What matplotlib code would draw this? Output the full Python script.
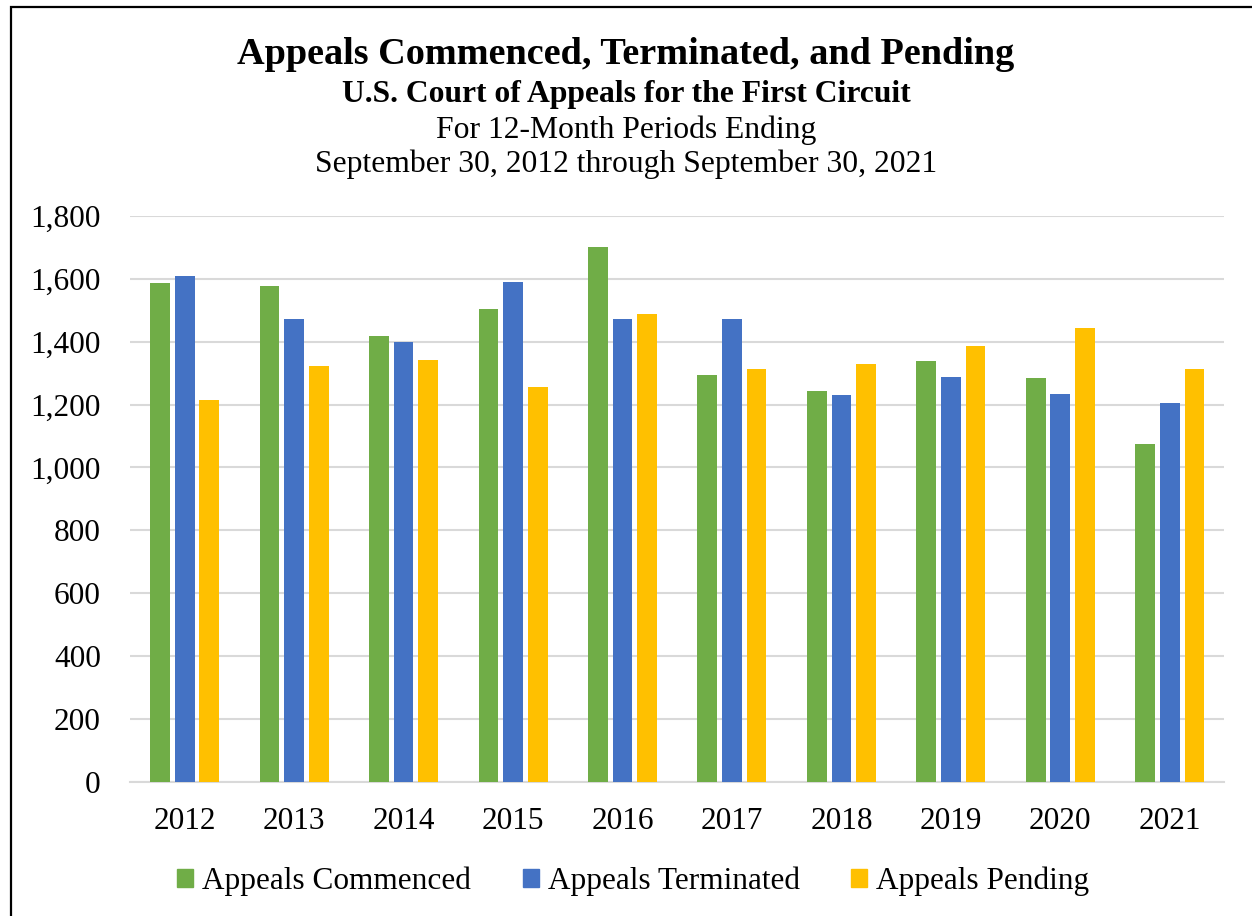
import numpy as np
import matplotlib
matplotlib.use('Agg')
import matplotlib.pyplot as plt
from matplotlib.patches import Rectangle, Patch
from matplotlib.ticker import FuncFormatter

years = ['2012', '2013', '2014', '2015', '2016', '2017', '2018', '2019', '2020', '2021']
commenced = [1587, 1577, 1420, 1504, 1703, 1295, 1243, 1340, 1284, 1076]
terminated = [1611, 1472, 1400, 1589, 1472, 1472, 1231, 1287, 1235, 1206]
pending = [1214, 1323, 1342, 1255, 1489, 1313, 1330, 1387, 1443, 1313]

series_names = ['Appeals Commenced', 'Appeals Terminated', 'Appeals Pending']
series_colors = ['#70ad47', '#4472c4', '#ffc000']

plt.rcParams['font.family'] = ['Liberation Serif', 'DejaVu Serif']

fig = plt.figure(figsize=(12.52, 9.16), dpi=100)
ax = fig.add_axes([0.1038, 0.1468, 0.8742, 0.6172])

x = np.arange(len(years))
width = 0.18
offset = 0.225
for i, (vals, color) in enumerate(zip([commenced, terminated, pending], series_colors)):
    ax.bar(x + (i - 1) * offset, vals, width, color=color, zorder=3)

ax.set_xlim(-0.5, len(years) - 0.5)
ax.set_ylim(0, 1800)
ax.set_yticks(range(0, 1801, 200))
ax.yaxis.set_major_formatter(FuncFormatter(lambda v, p: f'{int(v):,}'))
ax.set_xticks(x)
ax.set_xticklabels(years)
ax.tick_params(axis='both', length=0, labelsize=22.5)
ax.tick_params(axis='x', pad=18)
ax.tick_params(axis='y', pad=21)
ax.grid(axis='y', color='#d9d9d9', linewidth=1.5, zorder=0)
for side in ['top', 'right', 'left']:
    ax.spines[side].set_visible(False)
ax.spines['bottom'].set_color('#d9d9d9')
ax.spines['bottom'].set_linewidth(1.5)

fig.text(0.5, 0.941, 'Appeals Commenced, Terminated, and Pending', ha='center', va='center',
         fontsize=27.5, fontweight='bold')
fig.text(0.5, 0.897, 'U.S. Court of Appeals for the First Circuit', ha='center', va='center',
         fontsize=22.8, fontweight='bold')
fig.text(0.5, 0.858, 'For 12-Month Periods Ending', ha='center', va='center', fontsize=22.8)
fig.text(0.5, 0.821, 'September 30, 2012 through September 30, 2021', ha='center', va='center',
         fontsize=22.8)

handles = [Patch(color=c, label=n) for c, n in zip(series_colors, series_names)]
fig.legend(handles=handles, loc='center', bbox_to_anchor=(0.506, 0.038), ncol=3, frameon=False,
           fontsize=22.5, handlelength=0.5, handleheight=0.5, handletextpad=0.3,
           columnspacing=1.65)

fig.patches.append(Rectangle((0.0088, -0.02), 1.1, 1.0124, transform=fig.transFigure,
                             fill=False, edgecolor='black', linewidth=1.6))

fig.savefig('out.png', dpi=100)
